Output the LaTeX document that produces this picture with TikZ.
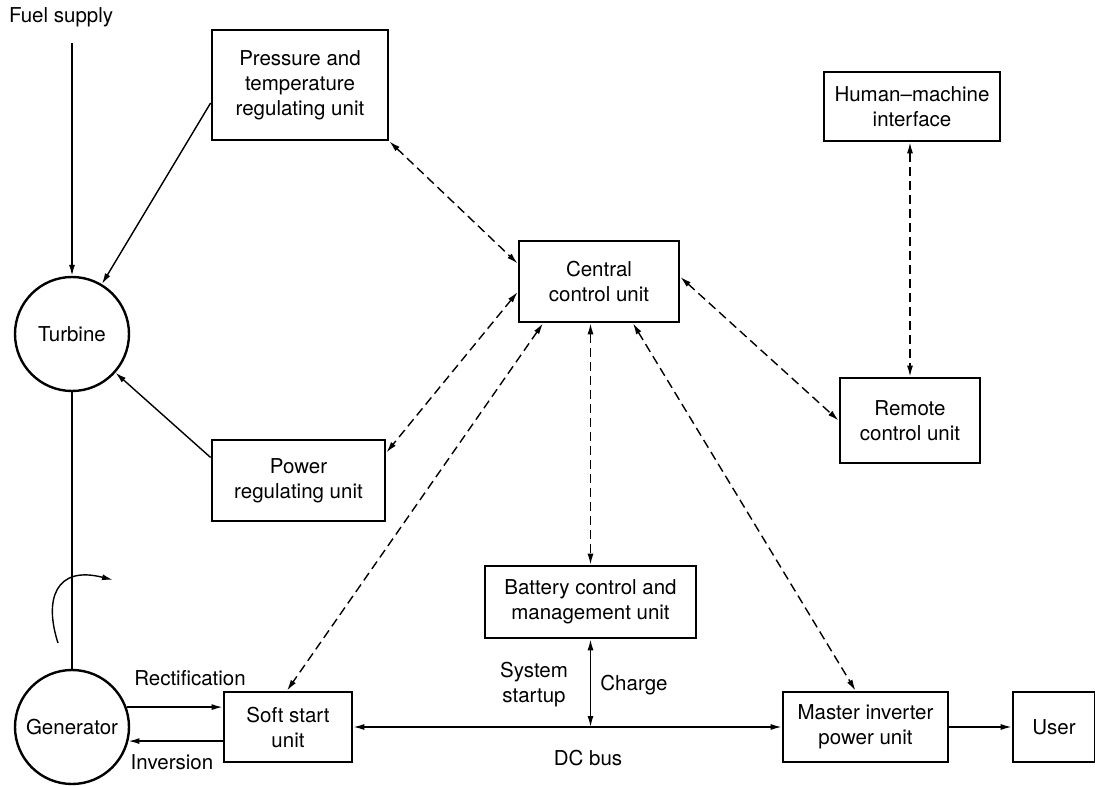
\documentclass[tikz,border=0pt]{standalone}
\usepackage{fontspec}
\setmainfont{TeX Gyre Heros}
\usetikzlibrary{arrows.meta,calc}
\begin{document}
\begin{tikzpicture}[x=1pt,y=-1pt,
  every node/.style={font=\fontsize{20.5}{25}\selectfont},
  box/.style={draw, line width=2.8pt, inner sep=0pt, align=center},
  circ/.style={draw, circle, line width=2.4pt, inner sep=0pt, minimum size=114pt},
  lbl/.style={align=center, inner sep=0pt},
  conn/.style={line width=1.4pt},
  tip/.style={-{Latex[length=11pt,width=6pt]}},
  both/.style={{Latex[length=11pt,width=6pt]}-{Latex[length=11pt,width=6pt]}},
  dash9/.style={dash pattern=on 9pt off 5pt}
]
\useasboundingbox (0,0) rectangle (1095,786);

% nodes
\node[lbl] (fuel) at (61,17) {Fuel supply};
\node[circ] (turb) at (72,334) {Turbine};
\node[circ] (gen) at (72,727) {Generator};
\node[box, minimum width=176pt, minimum height=110pt] (ptr) at (300,85) {Pressure and\\temperature\\regulating unit};
\node[box, minimum width=173pt, minimum height=81pt] (pru) at (298.5,480.5) {Power\\regulating unit};
\node[box, minimum width=160pt, minimum height=81pt] (ccu) at (599,281.5) {Central\\control unit};
\node[box, minimum width=176pt, minimum height=69pt] (hmi) at (912,106.5) {Human--machine\\interface};
\node[box, minimum width=140pt, minimum height=85pt] (rcu) at (910,420.5) {Remote\\control unit};
\node[box, minimum width=211pt, minimum height=72pt] (bcm) at (590.5,602) {Battery control and\\management unit};
\node[box, minimum width=128pt, minimum height=70pt] (ssu) at (288,727) {Soft start\\unit};
\node[box, minimum width=165pt, minimum height=70pt] (miu) at (865.5,727) {Master inverter\\power unit};
\node[box, minimum width=82pt, minimum height=70pt] (user) at (1054,727) {User};

\node[lbl] (rect) at (190,678) {Rectification};
\node[lbl] (inv) at (172,762) {Inversion};
\node[lbl] (sys) at (534,684.5) {System\\startup};
\node[lbl] (chg) at (634,685) {Charge};
\node[lbl] (dcbus) at (588,758) {DC bus};

\coordinate (fs) at (72,43);
\coordinate (rotA) at (58,643);
\coordinate (rotB) at (113,580);
\coordinate (busj) at (bcm.south |- ssu.east);

% solid connectors
\draw[conn, tip] (fs) -- (turb);
\draw[conn, tip] ([yshift=-18pt]ptr.west) -- (turb);
\draw[conn, tip] ([yshift=23pt]pru.west) -- (turb);
\draw[conn] (turb) -- (gen);
\draw[conn, tip] (rotA) .. controls (44,600) and (55,565) .. (rotB);
\draw[conn, tip] (gen.20.5) -- (gen.20.5 -| ssu.west);
\draw[conn, tip] (gen.-14.2 -| ssu.west) -- (gen.-14.2);
\draw[conn, both] (ssu.east) -- (miu.west);
\draw[conn, both] (bcm.south) -- (busj);
\draw[conn, tip] (miu.east) -- (user.west);

% dashed connectors
\draw[conn, dash9, both] (ptr.south east) -- ([yshift=18pt]ccu.west);
\draw[conn, dash9, both] ([yshift=-10.5pt]ccu.west) -- ([yshift=28pt]pru.east);
\draw[conn, dash9, both] ([yshift=4.5pt]ccu.east) -- (rcu.west);
\draw[conn, dash9, both] (rcu.north |- hmi.south) -- (rcu.north);
\draw[conn, dash9, both] (bcm.north |- ccu.south) -- (bcm.north);
\draw[conn, dash9, both] ([xshift=-56pt]ccu.south) -- ([xshift=-1pt]ssu.north);
\draw[conn, dash9, both] ([xshift=34pt]ccu.south) -- ([xshift=-10pt]miu.north);
\end{tikzpicture}
\end{document}
